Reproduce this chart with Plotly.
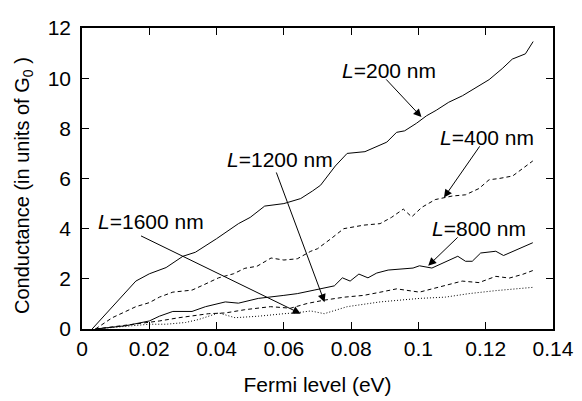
import plotly.graph_objects as go

# ---- data ----
x_200 = [0.003, 0.0073, 0.012, 0.016, 0.02, 0.025, 0.03, 0.0337, 0.04, 0.0465, 0.05, 0.0543, 0.06, 0.065,
         0.0685, 0.0709, 0.0753, 0.0788, 0.0841, 0.0876, 0.0906, 0.0935, 0.0959, 0.0994, 0.1024, 0.1053, 0.109,
         0.1131, 0.117, 0.121, 0.1249, 0.1279, 0.1318, 0.1341]
y_200 = [0.0, 0.64, 1.3, 1.91, 2.2, 2.45, 2.9, 3.06, 3.6, 4.2, 4.45, 4.9, 5.0, 5.2,
         5.5, 5.73, 6.5, 7.0, 7.07, 7.26, 7.45, 7.84, 7.9, 8.2, 8.5, 8.72, 9.04,
         9.3, 9.6, 9.94, 10.38, 10.76, 10.97, 11.46]

x_400 = [0.004, 0.009, 0.013, 0.016, 0.02, 0.023, 0.027, 0.0327, 0.036, 0.0406, 0.045, 0.0484, 0.052, 0.0562,
         0.06, 0.064, 0.068, 0.07, 0.074, 0.0778, 0.0837, 0.0886, 0.092, 0.0955, 0.098, 0.101, 0.105, 0.11,
         0.114, 0.118, 0.121, 0.124, 0.128, 0.132, 0.134]
y_400 = [0.0, 0.45, 0.7, 0.89, 1.05, 1.27, 1.47, 1.55, 1.75, 2.04, 2.2, 2.42, 2.5, 2.83,
         2.75, 2.8, 3.1, 3.2, 3.6, 4.0, 4.14, 4.2, 4.45, 4.78, 4.47, 4.85, 5.16, 5.3,
         5.35, 5.6, 5.95, 6.0, 6.1, 6.5, 6.7]

x_800 = [0.004, 0.008, 0.013, 0.02, 0.023, 0.027, 0.0327, 0.0367, 0.0426, 0.0465, 0.0524, 0.06, 0.064, 0.069,
         0.075, 0.0774, 0.0797, 0.0823, 0.085, 0.0876, 0.091, 0.0984, 0.1003, 0.104, 0.1117, 0.114, 0.116,
         0.1185, 0.123, 0.1253, 0.1297, 0.134]
y_800 = [0.0, 0.07, 0.13, 0.32, 0.51, 0.7, 0.7, 0.89, 1.08, 1.03, 1.22, 1.34, 1.41, 1.55,
         1.72, 2.04, 1.91, 2.19, 2.04, 2.23, 2.35, 2.43, 2.52, 2.43, 2.9, 2.7, 2.7,
         3.03, 3.1, 2.93, 3.18, 3.44]

x_1200 = [0.004, 0.01, 0.015, 0.02, 0.023, 0.0288, 0.0327, 0.0376, 0.0426, 0.0484, 0.056, 0.062, 0.067, 0.072,
          0.078, 0.0837, 0.088, 0.0935, 0.1003, 0.106, 0.113, 0.118, 0.123, 0.127, 0.131, 0.134]
y_1200 = [0.0, 0.1, 0.2, 0.26, 0.32, 0.45, 0.51, 0.61, 0.64, 0.77, 0.89, 0.83, 1.02, 1.15,
          1.27, 1.34, 1.45, 1.6, 1.47, 1.66, 1.91, 1.85, 2.1, 2.03, 2.18, 2.33]

x_1600 = [0.004, 0.01, 0.015, 0.02, 0.025, 0.0308, 0.0347, 0.0406, 0.0455, 0.0524, 0.06, 0.064, 0.068, 0.072,
          0.0788, 0.0886, 0.1003, 0.108, 0.115, 0.123, 0.134]
y_1600 = [0.0, 0.07, 0.12, 0.19, 0.19, 0.26, 0.38, 0.64, 0.45, 0.51, 0.61, 0.65, 0.72, 0.61,
          0.89, 1.08, 1.22, 1.27, 1.41, 1.53, 1.66]

labels = ["<i>L</i>=200 nm", "<i>L</i>=400 nm", "<i>L</i>=800 nm", "<i>L</i>=1200 nm", "<i>L</i>=1600 nm"]
label_x = [0.0912, 0.1203, 0.1181, 0.0590, 0.0204]
label_y = [10.32, 7.64, 4.01, 6.76, 4.28]
arrow_tail_x = [0.0900, 0.1185, 0.1121, 0.0576, 0.0171]
arrow_tail_y = [10.01, 7.34, 3.71, 6.30, 3.74]
arrow_tip_x = [0.1009, 0.1076, 0.1029, 0.0721, 0.0650]
arrow_tip_y = [8.45, 5.24, 2.52, 1.07, 0.61]

x_ticks = [0, 0.02, 0.04, 0.06, 0.08, 0.1, 0.12, 0.14]
x_ticktext = ["0", "0.02", "0.04", "0.06", "0.08", "0.1", "0.12", "0.14"]
y_ticks = [0, 2, 4, 6, 8, 10, 12]
x_title = "Fermi level (eV)"
y_title = "Conductance (in units of G<sub>0</sub> )"

FONT = "Liberation Sans, Arial, Helvetica, sans-serif"

fig = go.Figure()
series = [
    (x_200, y_200, "solid"),
    (x_400, y_400, "4px,3px"),
    (x_800, y_800, "solid"),
    (x_1200, y_1200, "4px,3px"),
    (x_1600, y_1600, "1px,2px"),
]
for xs, ys, dash in series:
    fig.add_trace(go.Scatter(x=xs, y=ys, mode="lines",
                             line=dict(color="black", width=1, dash=dash),
                             showlegend=False, hoverinfo="skip"))

annotations = []
for t, lx, ly in zip(labels, label_x, label_y):
    annotations.append(dict(x=lx, y=ly, xref="x", yref="y", text=t, showarrow=False,
                            font=dict(family=FONT, size=21, color="black"),
                            xanchor="center", yanchor="middle"))
for tx, ty, hx, hy in zip(arrow_tail_x, arrow_tail_y, arrow_tip_x, arrow_tip_y):
    annotations.append(dict(x=hx, y=hy, ax=tx, ay=ty, xref="x", yref="y", axref="x", ayref="y",
                            text="", showarrow=True, arrowhead=2, arrowsize=1.6, arrowwidth=1,
                            arrowcolor="black", standoff=0, startstandoff=0))
# y-axis title as a rotated annotation for exact placement
annotations.append(dict(x=0, y=0.475, xref="paper", yref="paper", xshift=-59,
                        text=y_title, textangle=-90, showarrow=False,
                        font=dict(family=FONT, size=20, color="black"),
                        xanchor="center", yanchor="middle"))

# the page body has an 8px margin, so the figure is sized/margined to compensate
fig.update_layout(
    width=574, height=393,
    margin=dict(l=74, r=25, t=8, b=71),
    paper_bgcolor="white", plot_bgcolor="white",
    font=dict(family=FONT, size=21, color="black"),
    annotations=annotations,
    xaxis=dict(range=[0, 0.14], tickvals=x_ticks, ticktext=x_ticktext,
               ticks="inside", ticklen=7, tickwidth=1, tickcolor="black",
               showline=True, linecolor="black", linewidth=1.5, mirror="ticks",
               showgrid=False, zeroline=False, ticklabeloverflow="allow",
               title=dict(text=x_title, standoff=18,
                          font=dict(family=FONT, size=21))),
    yaxis=dict(range=[0, 12], tickvals=y_ticks,
               ticks="inside", ticklen=7, tickwidth=1, tickcolor="black",
               showline=True, linecolor="black", linewidth=1.5, mirror="ticks",
               showgrid=False, zeroline=False, ticklabelstandoff=5,
               ticklabeloverflow="allow"),
)

fig.write_html("out.html")
